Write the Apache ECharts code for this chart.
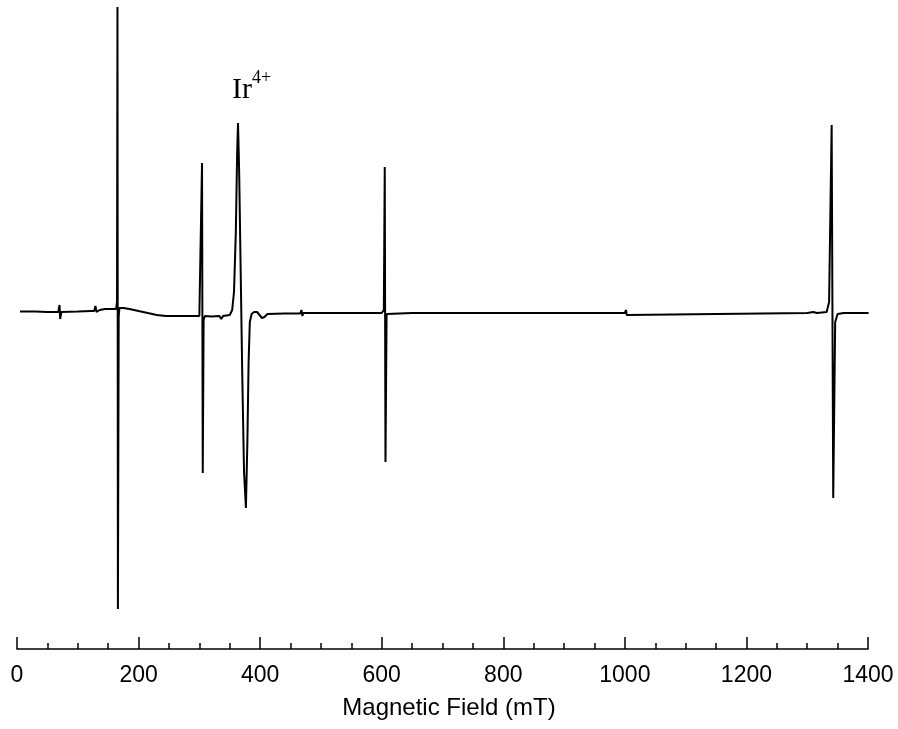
<!DOCTYPE html>
<html>
<head>
<meta charset="utf-8">
<script src="https://cdn.jsdelivr.net/npm/echarts@6/dist/echarts.min.js"></script>
<style>
html,body{margin:0;padding:0;background:#fff;}
#chart{width:898px;height:729px;}
</style>
</head>
<body>
<div id="chart"></div>
<script>
// Magnetic field (mT)
var fieldValues = [
  5, 30, 50, 68, 70, 71, 73, 100, 122, 127, 129, 131, 133, 136, 145, 158, 163, 164.5,
  165.3, 166.0, 167.3, 168.5, 175, 185, 200, 215, 230, 245, 270, 300, 303,
  304.4, 305.6, 307, 309, 320, 333, 336, 339, 350, 354, 357, 360, 362.2, 363.6, 365.5,
  368, 370.5, 373.5, 376.6, 379, 381, 383, 386, 390, 395, 399, 403, 407, 412, 440,
  466, 468, 469.5, 471, 500, 600, 603.5, 605.0, 606.2, 608, 650, 800, 1000, 1002, 1003,
  1005, 1300, 1310, 1313, 1316, 1332, 1336, 1340.2, 1342.8, 1346, 1350, 1360, 1401
];
// Derivative EPR signal (arbitrary units)
var signalValues = [
  0.5, 0.5, 0, 0, 7, -7, 0, 0.5, 1, 1, 6, 0, -2, 2, 3, 3, 3, 10,
  305, -297, -5, 4, 4, 3, 1, -1, -3, -4, -4, -4, -2,
  149, -161, -8, -4, -4.5, -4, -7, -4, -3, 2, 20, 80, 160, 189, 140,
  40, -60, -160, -196, -130, -50, -10, -2, 0, 0, -3, -6, -5, -2, -1.5,
  -1.5, 2, -4, -1, -1, -1, 2, 145, -150, -2, -1, -1, -1, 2, -3,
  -1, -1, 0, -2, -1, 0, 10, 187, -186, -10, -2, -1, -1
];
var xTickMin = 0, xTickMax = 1400, xTickStep = 200;
var axisTitle = 'Magnetic Field (mT)';
var peakLabel = 'Ir', peakLabelSup = '4+';

var seriesData = fieldValues.map(function (x, i) { return [x, signalValues[i]]; });

var chart = echarts.init(document.getElementById('chart'), null, {renderer: 'canvas'});
chart.setOption({
  animation: false,
  backgroundColor: '#fff',
  grid: {left: 17, right: 30, top: 0, bottom: 80, containLabel: false},
  xAxis: {
    type: 'value', min: xTickMin, max: xTickMax, interval: xTickStep,
    name: axisTitle, nameLocation: 'middle', nameGap: 47,
    nameTextStyle: {fontFamily: 'Liberation Sans, Arial, sans-serif', fontSize: 24, color: '#000', padding: [0, 0, 0, 13]},
    axisLine: {show: true, onZero: false, lineStyle: {color: '#000', width: 1.5}},
    axisTick: {show: true, inside: true, length: 12, lineStyle: {color: '#000', width: 1.5}},
    minorTick: {show: true, splitNumber: 4, length: 6, lineStyle: {color: '#000', width: 1.5}},
    axisLabel: {fontFamily: 'Liberation Sans, Arial, sans-serif', fontSize: 23, color: '#000', margin: 15,
      formatter: function (v) { return String(v); }},
    splitLine: {show: false}
  },
  yAxis: {type: 'value', min: -337, max: 312, show: false, splitLine: {show: false}},
  series: [{
    type: 'line', data: seriesData, showSymbol: false, symbol: 'none',
    lineStyle: {color: '#000', width: 2}, clip: false
  }],
  graphic: [
    {type: 'text', left: 232, top: 75, style: {text: peakLabel, font: '30px "Liberation Serif", "Times New Roman", serif', fill: '#000'}},
    {type: 'text', left: 252, top: 69, style: {text: peakLabelSup, font: '18px "Liberation Serif", "Times New Roman", serif', fill: '#000'}}
  ]
});
</script>
</body>
</html>
